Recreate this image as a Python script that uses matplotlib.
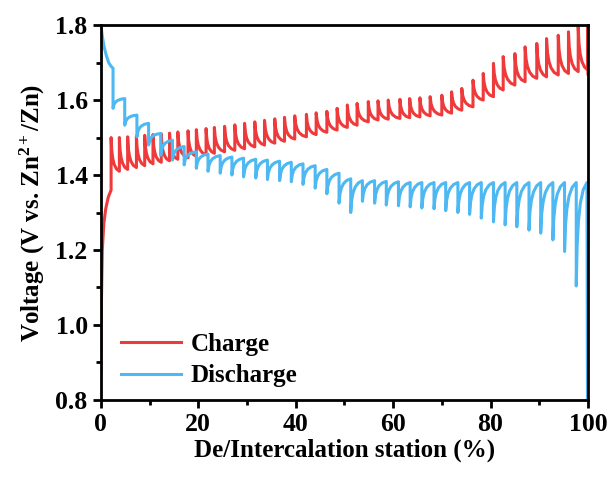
import matplotlib
matplotlib.use("Agg")
import matplotlib.pyplot as plt
from matplotlib.ticker import MultipleLocator

plt.rcParams['font.family'] = 'Liberation Serif'
plt.rcParams['font.weight'] = 'bold'
plt.rcParams['mathtext.fontset'] = 'custom'
plt.rcParams['mathtext.rm'] = 'Liberation Serif:bold'
plt.rcParams['mathtext.bf'] = 'Liberation Serif:bold'
plt.rcParams['mathtext.it'] = 'Liberation Serif:bold'

# ---- charge (GITT) : start, pulse positions, pulse peaks, relaxed values ----
charge_start_x = [0, 0.1, 0.3, 0.6, 1.0, 1.5, 2.1]
charge_start_v = [0.88, 1.05, 1.20, 1.27, 1.31, 1.34, 1.36]
charge_x = [2.1, 3.8, 5.5, 7.3, 9.0, 10.7, 12.4, 14.1, 15.8, 17.9,
            19.6, 21.6, 23.3, 25.4, 27.5, 29.5, 31.6, 33.6, 35.7, 37.7,
            39.8, 42.2, 44.2, 46.4, 48.5, 50.6, 52.6, 54.9, 56.9, 59.0,
            61.4, 63.4, 65.5, 67.6, 70.0, 72.0, 74.1, 76.4, 78.5, 80.6,
            82.6, 85.0, 87.1, 89.5, 91.5, 93.9, 96.0, 98.0, 100.0]
charge_peak = [1.500, 1.500, 1.502, 1.504, 1.506, 1.508, 1.510, 1.512, 1.515, 1.518,
               1.521, 1.524, 1.527, 1.530, 1.534, 1.538, 1.542, 1.546, 1.550, 1.554,
               1.558, 1.562, 1.566, 1.570, 1.578, 1.587, 1.591, 1.596, 1.598, 1.600,
               1.602, 1.604, 1.606, 1.609, 1.613, 1.622, 1.631, 1.653, 1.671, 1.698,
               1.716, 1.724, 1.742, 1.751, 1.764, 1.773, 1.782, 1.795, 1.800]
charge_rest = [1.410, 1.415, 1.420, 1.425, 1.430, 1.434, 1.438, 1.442, 1.446, 1.450,
               1.454, 1.458, 1.462, 1.466, 1.470, 1.475, 1.480, 1.485, 1.490, 1.496,
               1.502, 1.508, 1.514, 1.520, 1.527, 1.533, 1.542, 1.547, 1.549, 1.551,
               1.553, 1.555, 1.558, 1.560, 1.565, 1.573, 1.582, 1.600, 1.609, 1.627,
               1.640, 1.649, 1.658, 1.662, 1.667, 1.671, 1.676, 1.680, 1.670]

# ---- discharge (GITT) ----
discharge_start_x = [0, 0.3, 0.7, 1.1, 1.6, 2.1, 2.5]
discharge_start_v = [1.80, 1.77, 1.74, 1.72, 1.70, 1.69, 1.685]
discharge_x = [2.5, 4.9, 7.4, 9.8, 12.3, 14.7, 17.1, 19.6, 22.0, 24.5,
               26.9, 29.3, 31.8, 34.2, 36.7, 39.1, 41.5, 44.0, 46.4, 48.9,
               51.3, 53.7, 56.2, 58.6, 61.1, 63.5, 65.9, 68.4, 70.8, 73.3,
               75.7, 78.1, 80.6, 83.0, 85.4, 87.9, 90.3, 92.8, 95.2, 97.6]
discharge_min = [1.578, 1.533, 1.502, 1.480, 1.453, 1.440, 1.427, 1.418, 1.410, 1.405,
                 1.400, 1.395, 1.392, 1.388, 1.385, 1.382, 1.375, 1.365, 1.350, 1.325,
                 1.300, 1.330, 1.325, 1.320, 1.318, 1.315, 1.312, 1.310, 1.305, 1.300,
                 1.295, 1.285, 1.275, 1.267, 1.262, 1.253, 1.245, 1.227, 1.196, 1.104]
discharge_rest = [1.604, 1.560, 1.538, 1.511, 1.493, 1.476, 1.462, 1.456, 1.452, 1.448,
                  1.445, 1.442, 1.440, 1.437, 1.434, 1.430, 1.425, 1.415, 1.405, 1.390,
                  1.385, 1.385, 1.383, 1.382, 1.380, 1.380, 1.380, 1.380, 1.380, 1.380,
                  1.380, 1.380, 1.380, 1.380, 1.380, 1.380, 1.380, 1.380, 1.380, 1.380]
discharge_end_x = [99.8, 99.9]
discharge_end_v = [1.380, 0.80]

# relaxation profile after each pulse (fraction of span / remaining fraction)
relax_t = [0.0, 0.08, 0.2, 0.38, 0.65, 1.0]
relax_f = [1.0, 0.62, 0.38, 0.20, 0.07, 0.0]


def gitt(sx, sv, px, pv, rv, last_x):
    xs, ys = list(sx), list(sv)
    for i in range(len(px)):
        xa = px[i]
        xb = px[i + 1] if i + 1 < len(px) else last_x
        for t, f in zip(relax_t, relax_f):
            xs.append(xa + t * (xb - xa))
            ys.append(rv[i] + f * (pv[i] - rv[i]))
    return xs, ys


cx, cv = gitt(charge_start_x, charge_start_v, charge_x, charge_peak, charge_rest, 100.0)
dx, dv = gitt(discharge_start_x, discharge_start_v, discharge_x, discharge_min,
              discharge_rest, discharge_end_x[0])
dx += discharge_end_x[1:]
dv += discharge_end_v[1:]

fig = plt.figure(figsize=(6.15, 4.83), dpi=100)
ax = fig.add_axes([0.164, 0.172, 0.792, 0.776])

ax.plot(cx, cv, color='#EE3A3A', lw=2.2, label='Charge')
ax.plot(dx, dv, color='#4DB8F2', lw=2.2, label='Discharge')

ax.set_xlim(0, 100)
ax.set_ylim(0.8, 1.8)
ax.xaxis.set_major_locator(MultipleLocator(20))
ax.xaxis.set_minor_locator(MultipleLocator(10))
ax.yaxis.set_major_locator(MultipleLocator(0.2))
ax.yaxis.set_minor_locator(MultipleLocator(0.1))
ax.yaxis.set_major_formatter(plt.FormatStrFormatter('%.1f'))
ax.tick_params(which='major', direction='out', length=6, width=2, labelsize=18.5)
ax.tick_params(which='minor', direction='out', length=3.5, width=2)
for s in ax.spines.values():
    s.set_linewidth(2)

ax.set_xlabel('De/Intercalation station (%)', fontsize=18, fontweight='bold', labelpad=2)
ax.set_ylabel('Voltage (V vs. Zn$^{2+}$/Zn)', fontsize=18, fontweight='bold', labelpad=6)

ax.legend(loc='lower left', bbox_to_anchor=(0.015, 0.0), frameon=False, fontsize=18,
          handlelength=2.4, handletextpad=0.4, labelspacing=0.35, borderaxespad=0.1)

fig.savefig('out.png', dpi=100)
